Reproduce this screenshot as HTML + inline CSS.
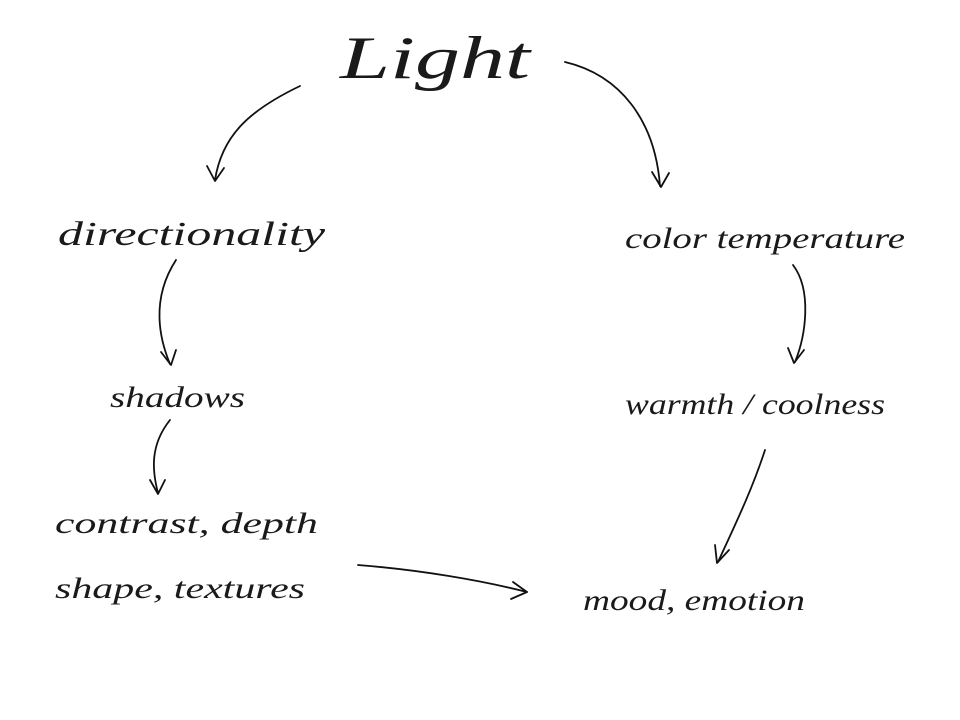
<!DOCTYPE html>
<html><head><meta charset="utf-8"><style>
html,body{margin:0;padding:0;background:#fff;}
svg{display:block;}
text{font-family:"Liberation Serif",serif;font-style:italic;fill:#1a1a1a;}
</style></head><body>
<svg width="960" height="720" viewBox="0 0 960 720" xmlns="http://www.w3.org/2000/svg">
<rect width="960" height="720" fill="#fff"/>
<g fill="none" stroke="#111" stroke-width="1.8" stroke-linecap="round" stroke-linejoin="round">
<path d="M300 86 C250 110 222 135 215 180"/><path d="M207 166 L215 181 L224 168"/>
<path d="M565 62 C620 75 655 120 660 186"/><path d="M652 172 L661 187 L669 173"/>
<path d="M176 260 C150 300 160 340 170 364"/><path d="M161 352 L171 365 L176 350"/>
<path d="M793 265 C812 290 806 335 795 362"/><path d="M788 348 L794 363 L804 350"/>
<path d="M170 420 C150 445 152 470 158 493"/><path d="M150 480 L158 494 L165 480"/>
<path d="M765 450 C752 490 735 525 718 562"/><path d="M715 545 L717 563 L729 550"/>
<path d="M358 565 C420 570 480 580 527 592"/><path d="M513 582 L527 592 L511 599"/>
</g>
<text x="340" y="78" font-size="60" textLength="190" lengthAdjust="spacingAndGlyphs">Light</text>
<text x="58" y="245" font-size="34" textLength="267" lengthAdjust="spacingAndGlyphs">directionality</text>
<text x="625" y="248" font-size="30" textLength="280" lengthAdjust="spacingAndGlyphs">color temperature</text>
<text x="110" y="407" font-size="30" textLength="135" lengthAdjust="spacingAndGlyphs">shadows</text>
<text x="625" y="414" font-size="30" textLength="260" lengthAdjust="spacingAndGlyphs">warmth / coolness</text>
<text x="55" y="533" font-size="30" textLength="263" lengthAdjust="spacingAndGlyphs">contrast, depth</text>
<text x="55" y="598" font-size="30" textLength="250" lengthAdjust="spacingAndGlyphs">shape, textures</text>
<text x="583" y="610" font-size="30" textLength="222" lengthAdjust="spacingAndGlyphs">mood, emotion</text>
</svg>
</body></html>
